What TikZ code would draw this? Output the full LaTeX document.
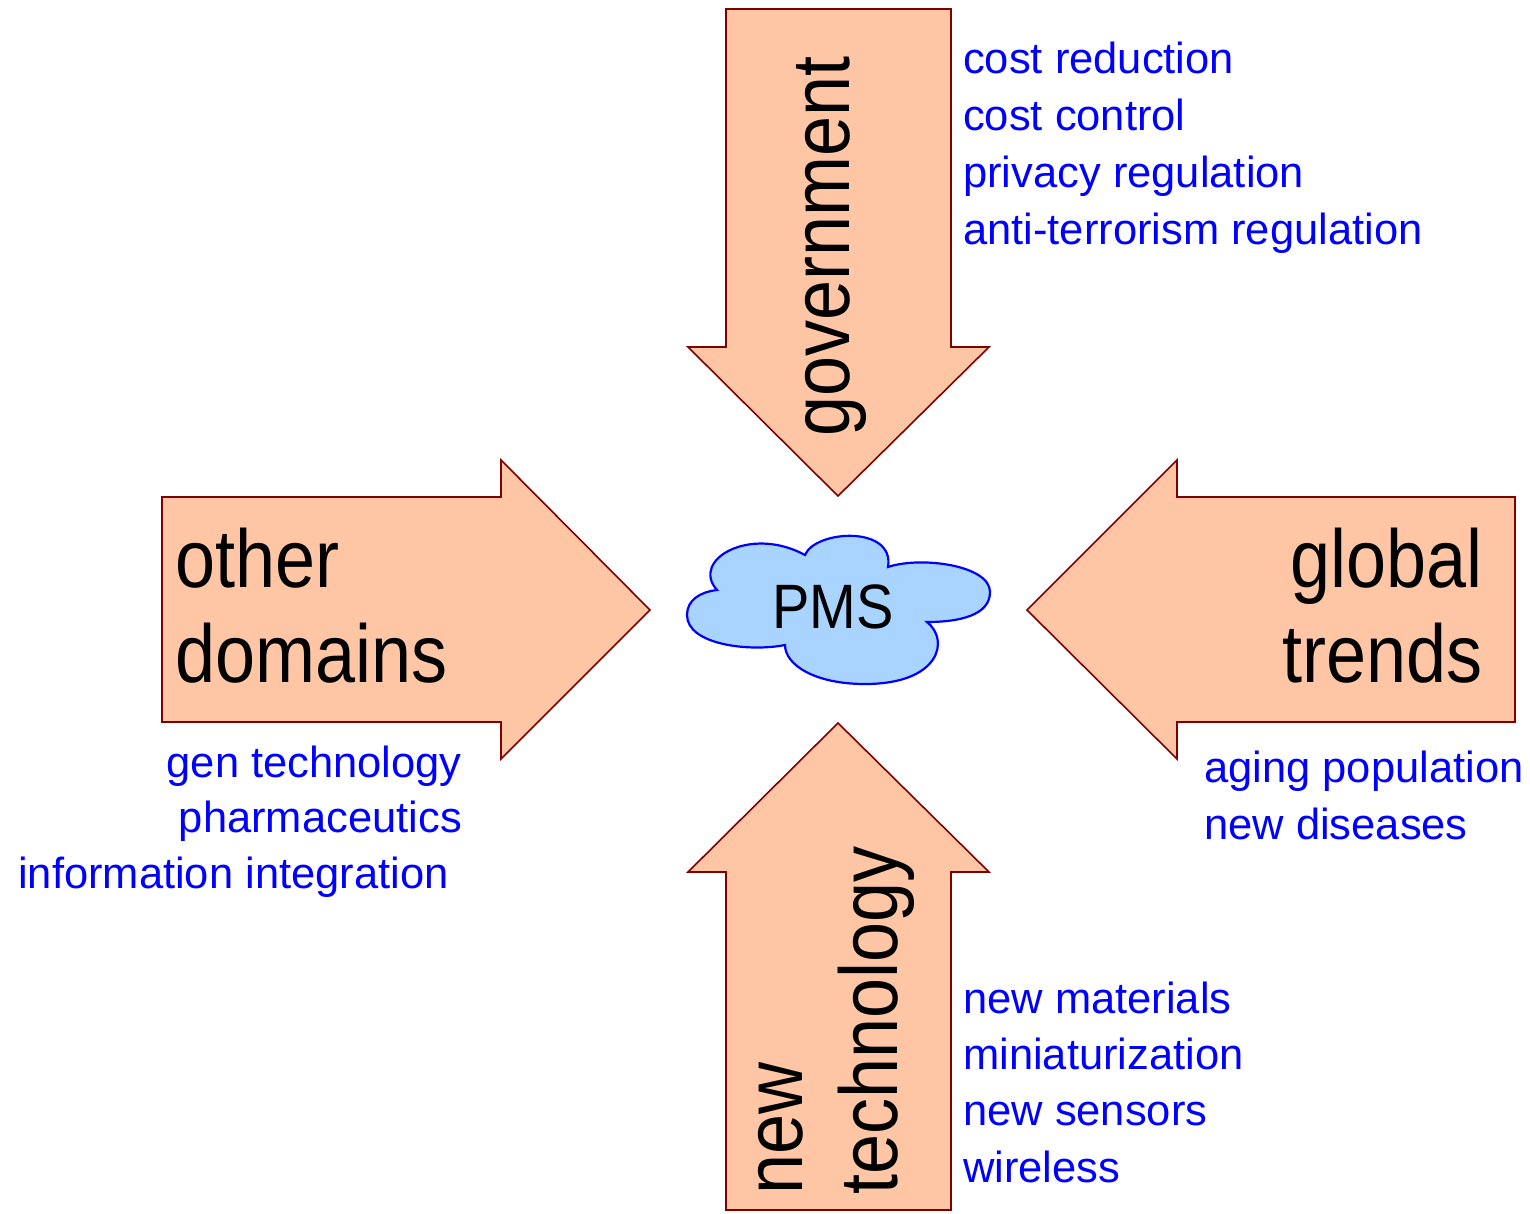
\documentclass[tikz,border=0pt]{standalone}
\usepackage{graphicx}
\usepackage{fontspec}
\setmainfont{Liberation Sans}
\definecolor{arrowfill}{HTML}{FFC6A6}
\definecolor{arrowline}{HTML}{800000}
\definecolor{cloudfill}{HTML}{A8D4FF}
\definecolor{cloudline}{HTML}{0000FF}
\definecolor{itemblue}{HTML}{0000FF}
\newcommand{\tallword}[1]{\scalebox{1}[1.14]{#1}}
\tikzset{
  bigarrow/.style={fill=arrowfill, draw=arrowline, line width=1.6pt, line join=miter},
  biglabel/.style={inner sep=0pt, font=\fontsize{72}{93}\selectfont, text=black},
  item/.style={inner sep=0pt, font=\fontsize{43.5}{57}\selectfont, text=itemblue},
  cloudshape/.style={fill=cloudfill, draw=cloudline, line width=2.2pt},
}
\begin{document}
\begin{tikzpicture}[x=1pt,y=-1pt]
\useasboundingbox (0,0) rectangle (1530,1213);
% government (down)
\draw[bigarrow] (726,9) -- (951,9) -- (951,347) -- (989,347) -- (838,496) -- (688,347) -- (726,347) -- cycle;
% new technology (up)
\draw[bigarrow] (726,1210) -- (951,1210) -- (951,872) -- (989,872) -- (838,723) -- (688,872) -- (726,872) -- cycle;
% other domains (right)
\draw[bigarrow] (162,497) -- (501,497) -- (501,460) -- (650,610) -- (501,759) -- (501,722) -- (162,722) -- cycle;
% global trends (left)
\draw[bigarrow] (1515,497) -- (1177,497) -- (1177,460) -- (1027,610) -- (1177,759) -- (1177,722) -- (1515,722) -- cycle;
% cloud
\draw[cloudshape] (717,590)
  .. controls (690,560) and (750,525) .. (805,555)
  .. controls (815,530) and (895,525) .. (888,567)
  .. controls (920,556) and (990,565) .. (990,592)
  .. controls (990,615) and (960,622) .. (927,622)
  .. controls (950,640) and (940,684) .. (865,684)
  .. controls (815,684) and (785,665) .. (785,645)
  .. controls (750,652) and (687,645) .. (687,615)
  .. controls (687,600) and (700,592) .. cycle;
\node[inner sep=0pt, font=\fontsize{56}{60}\selectfont, anchor=base] (pms) at (833,628) {\scalebox{1}[1.12]{PMS}};
% big labels
\node[biglabel, rotate=90, anchor=base west] (gov) at (849,437) {\tallword{government}};
\node[biglabel, rotate=90, anchor=base west] (newl) at (802,1195) {\tallword{new}};
\node[biglabel, rotate=90, anchor=base west] (tech) at (897,1195) {\tallword{technology}};
\node[biglabel, anchor=base west] (other) at (175,587) {\tallword{other}};
\node[biglabel, anchor=base west] (domains) at (175,682) {\tallword{domains}};
\node[biglabel, anchor=base east] (global) at (1483,587) {\tallword{global}};
\node[biglabel, anchor=base east] (trends) at (1483,682) {\tallword{trends}};
% government items
\node[item, anchor=base west] (g1) at (963,73) {cost reduction};
\node[item, anchor=base west] (g2) at (963,130) {cost control};
\node[item, anchor=base west] (g3) at (963,187) {privacy regulation};
\node[item, anchor=base west] (g4) at (963,244) {anti-terrorism regulation};
% other domains items
\node[item, anchor=base east] (o1) at (462,777) {gen technology};
\node[item, anchor=base east] (o2) at (462,832) {pharmaceutics};
\node[item, anchor=base west] (o3) at (18,888) {information integration};
% global trends items
\node[item, anchor=base west] (t1) at (1204,782) {aging population};
\node[item, anchor=base west] (t2) at (1204,839) {new diseases};
% new technology items
\node[item, anchor=base west] (n1) at (963,1013) {new materials};
\node[item, anchor=base west] (n2) at (963,1069) {miniaturization};
\node[item, anchor=base west] (n3) at (963,1125) {new sensors};
\node[item, anchor=base west] (n4) at (963,1182) {wireless};
\end{tikzpicture}
\end{document}
